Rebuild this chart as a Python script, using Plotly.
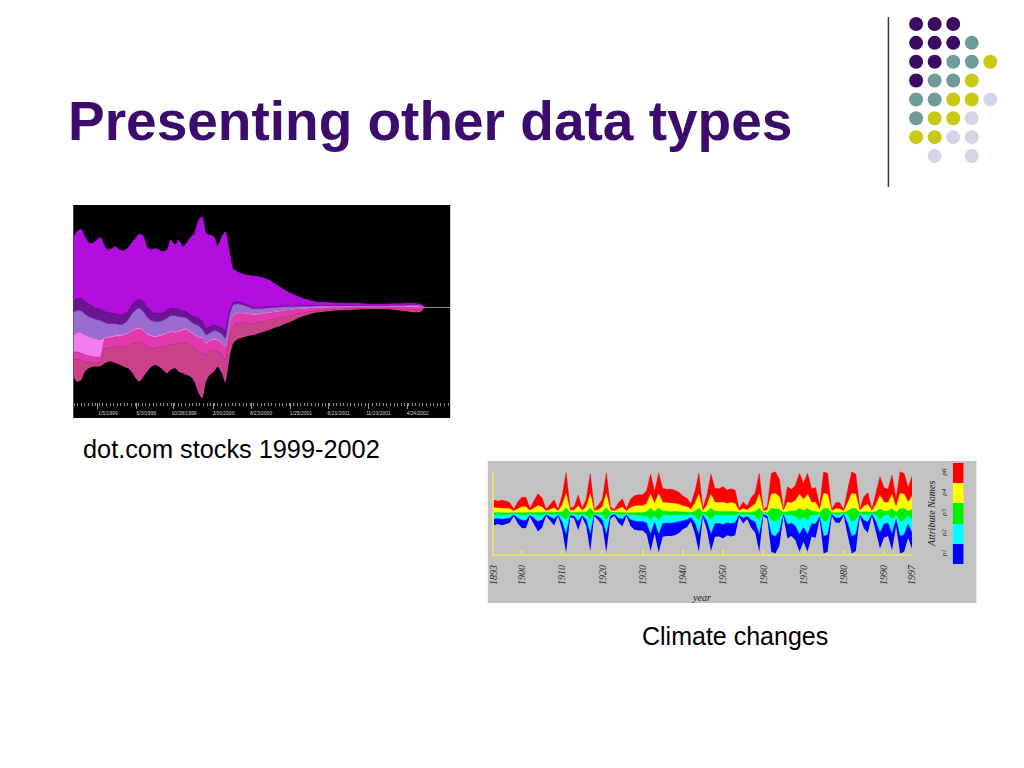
import plotly.graph_objects as go
import pandas as pd

FIG_W, FIG_H = 1024, 768


def fx(px):
    return px / FIG_W


def fy(py):
    return 1 - py / FIG_H


# ---------------- dot.com stocks streamgraph (values in index units) ----------------
stock_dates = (list(pd.date_range("1998-10-01", "2000-06-15", freq="SMS"))
               + list(pd.date_range("2000-07-01", "2002-06-01", freq="MS"))
               + [pd.Timestamp("2002-06-15"), pd.Timestamp("2002-07-01")])

stock_offset = [-208, -223, -218, -193, -183, -178, -178, -176, -168, -163,
                -163, -168, -173, -178, -183, -193, -213, -223, -208, -193,
                -178, -173, -178, -188, -198, -188, -183, -193, -198, -203,
                -208, -223, -258, -273, -223, -203, -193, -178, -198, -226,
                -148, -108, -96, -88, -83, -76, -68, -60, -50, -40,
                -30, -22, -16, -13, -11, -9, -8, -7, -6, -5,
                -5, -6, -8, -10, -13, -15, -13, 0]
stock_rose = [50, 67, 58, 28, 17, 12, 12, 12, 45, 40,
              43, 50, 53, 60, 67, 83, 107, 120, 100, 75,
              55, 50, 58, 70, 82, 78, 70, 85, 92, 97,
              95, 103, 125, 135, 80, 70, 65, 47, 55, 68,
              60, 50, 48, 42, 35, 32, 30, 27, 22, 17,
              12, 8, 6, 5, 5, 4, 4, 4, 3, 3,
              3, 3, 4, 5, 7, 8, 7, 0]
stock_hotpink = [22, 23, 22, 22, 20, 18, 16, 16, 28, 30,
                 29, 30, 32, 33, 35, 35, 38, 38, 35, 35,
                 35, 32, 32, 33, 35, 35, 35, 33, 35, 38,
                 35, 35, 40, 43, 32, 30, 30, 30, 32, 35,
                 30, 30, 28, 26, 24, 22, 20, 18, 17, 15,
                 12, 10, 7, 7, 6, 5, 5, 4, 4, 3,
                 3, 4, 5, 6, 7, 8, 7, 0]
stock_lightpink = [53, 57, 62, 60, 58, 57, 54, 50, 5, 5,
                   5, 5, 5, 5, 5, 5, 5, 5, 5, 5,
                   5, 5, 5, 5, 5, 5, 5, 5, 5, 5,
                   5, 5, 5, 5, 5, 5, 5, 5, 5, 5,
                   5, 5, 4, 4, 4, 4, 4, 4, 3, 3,
                   3, 3, 3, 2, 2, 2, 2, 2, 2, 2,
                   2, 2, 2, 2, 3, 3, 2, 0]
stock_lavender = [67, 66, 65, 63, 60, 58, 58, 58, 44, 38,
                  36, 33, 30, 30, 36, 47, 55, 57, 55, 48,
                  43, 43, 40, 40, 43, 44, 47, 42, 36, 30,
                  30, 30, 32, 24, 23, 20, 23, 23, 26, 25,
                  30, 29, 26, 20, 15, 14, 12, 10, 9, 7,
                  6, 4, 4, 4, 3, 3, 2, 2, 2, 2,
                  2, 2, 3, 3, 3, 3, 3, 0]
stock_darkpurple = [36, 36, 38, 37, 38, 37, 35, 34, 33, 34,
                    32, 30, 30, 30, 27, 27, 28, 27, 30, 30,
                    27, 25, 25, 24, 25, 23, 23, 22, 20, 20,
                    20, 22, 23, 23, 20, 20, 17, 17, 17, 23,
                    15, 8, 7, 6, 5, 4, 4, 3, 3, 2,
                    2, 2, 1, 1, 1, 1, 1, 1, 1, 1,
                    1, 1, 1, 1, 1, 1, 1, 0]
stock_violet = [187, 201, 207, 195, 184, 188, 205, 216, 195, 188,
                195, 202, 195, 190, 190, 188, 187, 196, 197, 182,
                185, 195, 190, 183, 180, 205, 190, 208, 192, 205,
                233, 250, 295, 315, 285, 275, 265, 238, 275, 297,
                170, 100, 90, 87, 94, 90, 80, 65, 48, 35,
                25, 17, 12, 9, 8, 7, 6, 6, 5, 4,
                4, 4, 4, 4, 4, 3, 2, 0]

stock_tick_dates = ["1999-01-05", "1999-06-03", "1999-10-28", "2000-03-30", "2000-08-23",
                    "2001-01-25", "2001-06-21", "2001-11-23", "2002-04-24"]
stock_tick_text = ["1/5/1999", "6/3/1999", "10/28/1999", "3/30/2000", "8/23/2000",
                   "1/25/2001", "6/21/2001", "11/23/2001", "4/24/2002"]

# ---------------- climate streamgraph ----------------
years = list(range(1893, 1998))
p6 = [24, 20, 24, 22, 18, 5, 20, 28, 29, 6, 22, 35, 28, 5, 14, 24, 5, 28, 63, 7,
      10, 32, 7, 23, 60, 5, 13, 23, 62, 10, 4, 18, 25, 5, 25, 31, 33, 33, 38, 60,
      36, 62, 42, 40, 42, 40, 36, 30, 26, 16, 35, 62, 6, 30, 60, 42, 41, 46, 40, 41,
      40, 6, 20, 11, 27, 34, 62, 4, 11, 62, 65, 52, 4, 46, 40, 46, 62, 48, 62, 42,
      44, 12, 65, 62, 4, 18, 18, 4, 40, 65, 60, 5, 28, 35, 4, 33, 56, 44, 40, 58,
      24, 65, 62, 44, 60]
p4 = [14, 13, 14, 13, 12, 5, 12, 17, 17, 6, 13, 20, 16, 5, 9, 14, 5, 20, 42, 6,
      7, 19, 6, 15, 42, 5, 9, 15, 42, 7, 4, 12, 15, 5, 15, 19, 20, 20, 24, 42,
      23, 42, 26, 25, 25, 24, 22, 18, 16, 10, 23, 42, 5, 20, 42, 26, 26, 28, 24, 26,
      24, 5, 12, 8, 17, 22, 42, 4, 8, 42, 45, 38, 4, 28, 25, 31, 42, 33, 42, 26,
      27, 8, 45, 42, 4, 12, 12, 4, 25, 45, 42, 5, 17, 22, 4, 21, 40, 27, 25, 42,
      15, 45, 42, 27, 40]
p3 = [8, 7, 7, 7, 6, 3, 7, 9, 9, 4, 7, 10, 9, 3, 5, 8, 3, 14, 38, 5,
      5, 10, 5, 10, 36, 3, 5, 10, 38, 5, 3, 6, 8, 3, 8, 10, 10, 10, 14, 35,
      12, 38, 12, 12, 12, 11, 11, 10, 9, 6, 15, 37, 4, 12, 35, 12, 12, 13, 11, 12,
      11, 4, 7, 5, 9, 13, 37, 3, 5, 37, 40, 30, 3, 13, 12, 18, 37, 20, 37, 12,
      13, 5, 40, 37, 3, 6, 6, 3, 14, 40, 35, 4, 9, 11, 3, 12, 32, 13, 12, 34,
      8, 40, 37, 13, 32]
p2 = [12, 11, 12, 11, 10, 3, 10, 15, 15, 4, 11, 18, 14, 3, 8, 12, 3, 16, 42, 4,
      6, 17, 4, 13, 42, 3, 8, 13, 42, 6, 3, 10, 13, 3, 13, 16, 17, 17, 20, 42,
      20, 42, 25, 24, 23, 23, 20, 16, 14, 9, 20, 42, 4, 17, 42, 25, 25, 26, 23, 25,
      23, 4, 10, 6, 14, 19, 42, 3, 6, 42, 43, 36, 3, 26, 24, 28, 42, 30, 42, 25,
      25, 7, 43, 42, 3, 10, 10, 3, 24, 43, 42, 4, 16, 20, 3, 19, 40, 25, 24, 42,
      13, 43, 42, 25, 40]
p1 = [19, 17, 18, 17, 14, 4, 16, 23, 23, 5, 17, 30, 23, 4, 11, 19, 4, 22, 55, 5,
      7, 27, 5, 19, 52, 4, 10, 19, 53, 8, 4, 14, 21, 4, 19, 26, 27, 27, 34, 51,
      34, 53, 40, 39, 38, 37, 34, 26, 23, 12, 32, 52, 5, 26, 51, 40, 39, 42, 37, 39,
      37, 5, 16, 8, 23, 32, 52, 4, 8, 52, 52, 44, 4, 42, 39, 42, 52, 44, 52, 40,
      41, 8, 52, 52, 4, 14, 14, 4, 37, 52, 51, 4, 25, 32, 4, 30, 47, 41, 39, 49,
      20, 52, 52, 41, 48]
year_ticks = [1893, 1900, 1910, 1920, 1930, 1940, 1950, 1960, 1970, 1980, 1990, 1997]

attr_names = ["p1", "p2", "p3", "p4", "p6"]
attr_colors = ["#0000ff", "#00ffff", "#00ee00", "#ffff00", "#ff0000"]

# ---------------- decorative dot grid ----------------
dot_rows = ["PPP..", "PPPT.", "PPTTY", "PTTY.", "TTYYL", "TYYL.", "YYLL.", ".L.L."]
dot_palette = {"P": "#3b0b63", "T": "#6f9c9b", "Y": "#c9c914", "L": "#d5d5e8"}

TITLE_COLOR = "#3b0c6c"
YELLOW_AXIS = "#e6de7a"

fig = go.Figure()

# stock streamgraph
fig.add_trace(go.Scatter(x=stock_dates, y=stock_offset, stackgroup="stock", mode="lines",
                         line=dict(width=0, shape="spline", smoothing=0.6),
                         fillcolor="rgba(0,0,0,0)", hoverinfo="skip", xaxis="x", yaxis="y"))
stock_layers = [(stock_rose, "#c9418a"), (stock_hotpink, "#e23aae"),
                (stock_lightpink, "#f27cf0"), (stock_lavender, "#9a6bd1"),
                (stock_darkpurple, "#6c1594"), (stock_violet, "#b20ee0")]
for vals, col in stock_layers:
    fig.add_trace(go.Scatter(x=stock_dates, y=vals, stackgroup="stock", mode="lines",
                             line=dict(width=0.6, color=col, shape="spline", smoothing=0.6),
                             fillcolor=col, hoverinfo="skip", xaxis="x", yaxis="y"))

# climate streamgraph (silhouette baseline)
clim_layers = [(p1, attr_colors[0]), (p2, attr_colors[1]), (p3, attr_colors[2]),
               (p4, attr_colors[3]), (p6, attr_colors[4])]
clim_base = [-(a + b + c + d + e) / 2 for a, b, c, d, e in zip(p1, p2, p3, p4, p6)]
fig.add_trace(go.Scatter(x=years, y=clim_base, stackgroup="clim", mode="lines",
                         line=dict(width=0), fillcolor="rgba(0,0,0,0)",
                         hoverinfo="skip", xaxis="x2", yaxis="y2"))
for vals, col in clim_layers:
    fig.add_trace(go.Scatter(x=years, y=vals, stackgroup="clim", mode="lines",
                             line=dict(width=0.5, color=col), fillcolor=col,
                             hoverinfo="skip", xaxis="x2", yaxis="y2"))

# climate legend bar
n = len(attr_colors)
cscale = []
for i, col in enumerate(attr_colors):
    cscale.append([i / n, col])
    cscale.append([(i + 1) / n, col])
fig.add_trace(go.Heatmap(x=["attr"], y=attr_names, z=[[i] for i in range(n)],
                         colorscale=cscale, zmin=-0.5, zmax=n - 0.5, showscale=False,
                         hoverinfo="skip", xaxis="x3", yaxis="y3"))

# dot grid
dx, dyy, dc = [], [], []
for r, row in enumerate(dot_rows):
    for c, ch in enumerate(row):
        if ch in dot_palette:
            dx.append(c)
            dyy.append(r)
            dc.append(dot_palette[ch])
fig.add_trace(go.Scatter(x=dx, y=dyy, mode="markers", marker=dict(size=14, color=dc),
                         hoverinfo="skip", xaxis="x4", yaxis="y4"))

serif_it = dict(family="Liberation Serif", style="italic", color="#222222")

fig.update_layout(
    width=FIG_W, height=FIG_H, margin=dict(l=0, r=0, t=0, b=0),
    paper_bgcolor="white", plot_bgcolor="rgba(0,0,0,0)", showlegend=False,
    hovermode=False,
    xaxis=dict(domain=[fx(68), fx(449)], anchor="y", type="date",
               range=["1998-10-01", "2002-10-07"],
               tickmode="array", tickvals=stock_tick_dates, ticktext=stock_tick_text,
               ticks="outside", ticklen=6, tickcolor="#9a9a9a", tickwidth=1,
               tickfont=dict(family="Liberation Sans", size=5, color="#d0d0d0"),
               ticklabelshift=10, showgrid=False, zeroline=False, showline=False,
               minor=dict(tickmode="linear", tick0="1998-10-04", dtick=14 * 86400000,
                          ticks="outside", ticklen=3, tickcolor="#8a8a8a", showgrid=False)),
    yaxis=dict(domain=[fy(402), fy(205)], anchor="x", range=[-284, 307],
               showticklabels=False, ticks="", showgrid=False,
               zeroline=True, zerolinecolor="#8c8c8c", zerolinewidth=1),
    xaxis2=dict(domain=[fx(493), fx(916)], anchor="y2", range=[1893, 1997],
                tickmode="array", tickvals=year_ticks, tickangle=-90,
                ticks="inside", ticklen=4, tickcolor=YELLOW_AXIS, tickwidth=1.5,
                tickfont=dict(size=10, **serif_it), ticklabelstandoff=5,
                showline=True, linecolor=YELLOW_AXIS, linewidth=2,
                showgrid=False, zeroline=False),
    yaxis2=dict(domain=[fy(554), fy(470.7)], anchor="x2", range=[-124, 126],
                tickmode="array", tickvals=[125.3], ticks="inside", ticklen=21,
                tickcolor=YELLOW_AXIS, tickwidth=2, showticklabels=False,
                showline=True, linecolor=YELLOW_AXIS, linewidth=2,
                showgrid=False, zeroline=False),
    xaxis3=dict(domain=[fx(957), fx(968)], anchor="y3", visible=False),
    yaxis3=dict(domain=[fy(564), fy(463)], anchor="x3", type="category",
                tickangle=-90, ticks="", showgrid=False, zeroline=False,
                tickfont=dict(size=7, **serif_it), ticklabelstandoff=4),
    xaxis4=dict(domain=[fx(910.6), fx(1004.4)], anchor="y4", range=[-0.5, 4.5], visible=False),
    yaxis4=dict(domain=[fy(165.45), fy(14.55)], anchor="x4", range=[7.5, -0.5], visible=False),
    shapes=[
        dict(type="rect", xref="paper", yref="paper", x0=fx(68), x1=fx(449),
             y0=fy(418), y1=fy(205), fillcolor="black", line=dict(width=0), layer="below"),
        dict(type="rect", xref="paper", yref="paper", x0=fx(487), x1=fx(981),
             y0=fy(603), y1=fy(461), fillcolor="#c2c2c2", line=dict(width=0), layer="below"),
        dict(type="line", xref="paper", yref="paper", x0=fx(892), x1=fx(892),
             y0=fy(187), y1=fy(17), line=dict(color="#3a3a3a", width=1.5)),
    ],
    annotations=[
        dict(text="Presenting other data types", xref="paper", yref="paper",
             x=fx(61), y=fy(121), xanchor="left", yanchor="middle", showarrow=False,
             font=dict(family="Liberation Sans", size=55, weight="bold", color=TITLE_COLOR)),
        dict(text="dot.com stocks 1999-2002", xref="paper", yref="paper",
             x=fx(76), y=fy(449), xanchor="left", yanchor="middle", showarrow=False,
             font=dict(family="Liberation Sans", size=25.3, color="black")),
        dict(text="Climate changes", xref="paper", yref="paper",
             x=fx(641), y=fy(636), xanchor="left", yanchor="middle", showarrow=False,
             font=dict(family="Liberation Sans", size=25, color="black")),
        dict(text="year", xref="paper", yref="paper", x=fx(703), y=fy(597),
             xanchor="center", yanchor="middle", showarrow=False,
             font=dict(size=10, **serif_it)),
        dict(text="Attribute Names", xref="paper", yref="paper", x=fx(935), y=fy(514),
             xanchor="center", yanchor="middle", showarrow=False, textangle=-90,
             font=dict(size=10, **serif_it)),
    ],
)

fig.write_html("out.html", config={"displayModeBar": False, "responsive": False},
               post_script="document.body.style.margin='0px';"
                           "document.body.style.overflow='hidden';")
